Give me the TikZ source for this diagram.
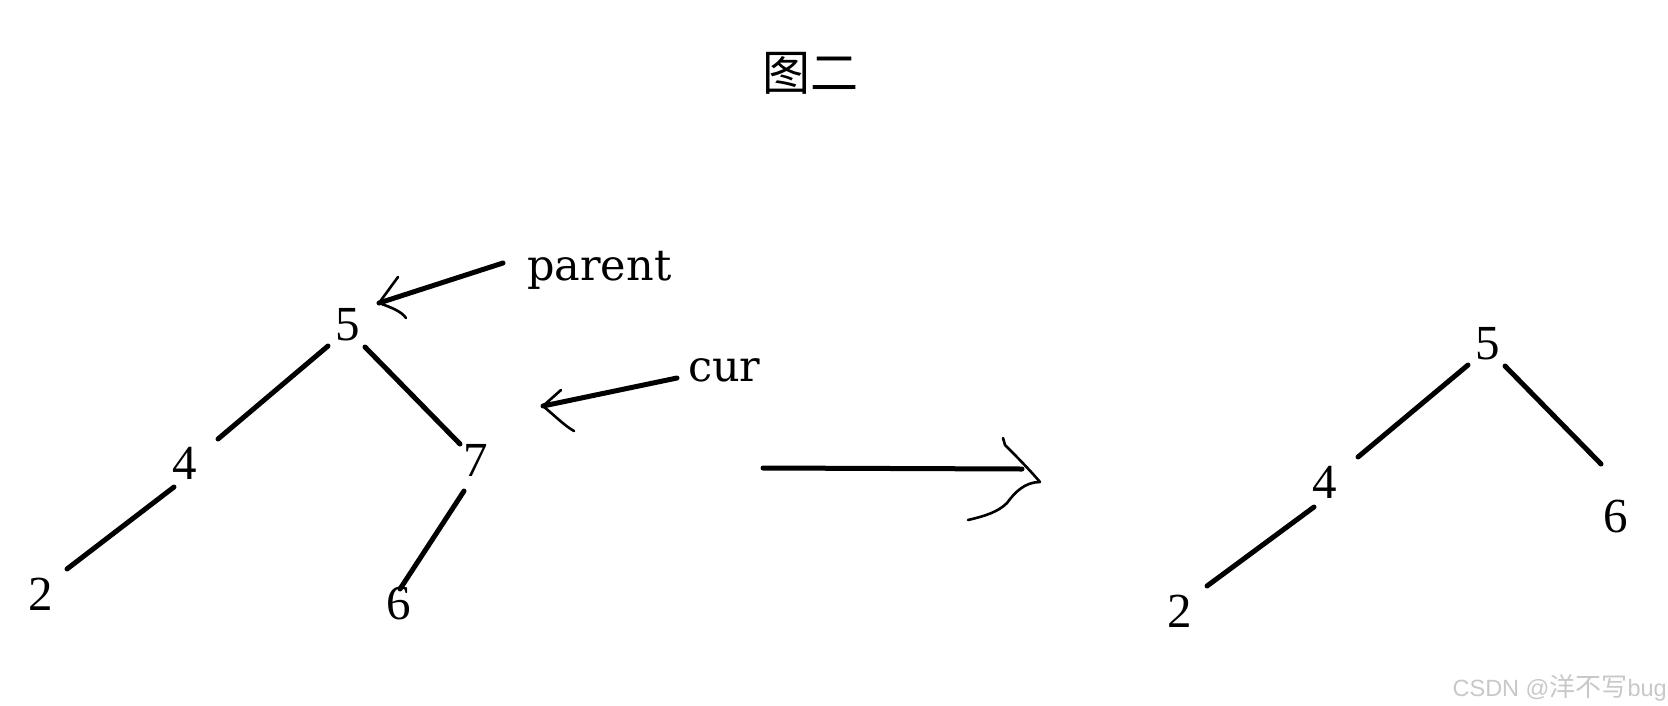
\documentclass[tikz,border=0pt]{standalone}
\usepackage{fontspec}
\newfontfamily\cjk{Noto Sans CJK SC}
\newfontfamily\dvs{DejaVu Serif}
\newfontfamily\lsans{Liberation Sans}
\newfontfamily\lserif{Liberation Serif}
\usetikzlibrary{calc}
\definecolor{wm}{RGB}{200,200,200}
\begin{document}
\begin{tikzpicture}[x=1pt,y=-1pt,
  digit/.style={inner sep=0pt, font=\lserif\fontsize{49}{49}\selectfont},
  word/.style={inner sep=0pt, anchor=base west, font=\dvs\fontsize{43}{43}\selectfont},
  edge/.style={line width=5pt, line cap=round},
  shaft/.style={line width=5pt, line cap=round},
  barb/.style={line width=2.6pt, line cap=round, line join=round}]
\useasboundingbox (0,0) rectangle (1668,705);

% title
\node[inner sep=0pt, font=\cjk\fontsize{48}{48}\selectfont] (title) at (810,73) {图二};

% left tree
\node[digit] (L5) at (348,325) {5};
\node[digit] (L4) at (185,463) {4};
\node[digit] (L7) at (476,460) {7};
\node[digit] (L2) at (41,594) {2};
\node[digit] (L6) at (399,604) {6};

\draw[edge] ($(L5)+(-20,21)$) -- ($(L4)+(33,-24)$);
\draw[edge] ($(L5)+(17,22)$) -- ($(L7)+(-16,-16)$);
\draw[edge] ($(L4)+(-11,24)$) -- ($(L2)+(26,-25)$);
\draw[edge] ($(L7)+(-12,31)$) -- ($(L6)+(1,-15)$);

% labels
\node[word] (parent) at (527,280) {parent};
\node[word] (cur) at (688,381) {cur};

% parent arrow
\coordinate (ptip) at ($(L5)+(31,-22)$);
\draw[shaft] ($(parent.base west)+(-24,-17)$) -- (ptip);
\draw[barb] ($(ptip)+(19,-26)$) -- (ptip) .. controls ($(ptip)+(14,5)$) and ($(ptip)+(23,9)$) .. ($(ptip)+(27,15)$);

% cur arrow
\coordinate (ctip) at (543,406);
\draw[shaft] ($(cur.base west)+(-11,-3)$) -- (ctip);
\draw[barb] ($(ctip)+(18,-16)$) -- (ctip) .. controls ($(ctip)+(12,10)$) and ($(ctip)+(22,20)$) .. ($(ctip)+(31,25)$);

% big arrow
\coordinate (bstart) at (763,468);
\coordinate (btip) at (1040,482);
\draw[shaft] (bstart) -- (1022,469);
\draw[barb] (1003,438) -- (1005,445) .. controls (1015,455) and (1028,468) .. (btip);
\draw[barb] (btip) .. controls (1025,482) and (1015,492) .. (1007,503) .. controls (998,512) and (985,516) .. (968,520);

% right tree
\node[digit] (R5) at (1488,344) {5};
\node[digit] (R4) at (1325,482) {4};
\node[digit] (R2) at (1180,611) {2};
\node[digit] (R6) at (1616,517) {6};

\draw[edge] ($(R5)+(-20,21)$) -- ($(R4)+(33,-25)$);
\draw[edge] ($(R4)+(-11,25)$) -- ($(R2)+(27,-25)$);
\draw[edge] ($(R5)+(17,22)$) -- ($(R6)+(-15,-53)$);

% watermark
\node[inner sep=0pt, anchor=base east, text=wm, font=\lsans\fontsize{23.5}{23.5}\selectfont] (wmark) at (1667,696) {CSDN @{\cjk\fontsize{26}{26}\selectfont 洋不写}bug};
\end{tikzpicture}
\end{document}
